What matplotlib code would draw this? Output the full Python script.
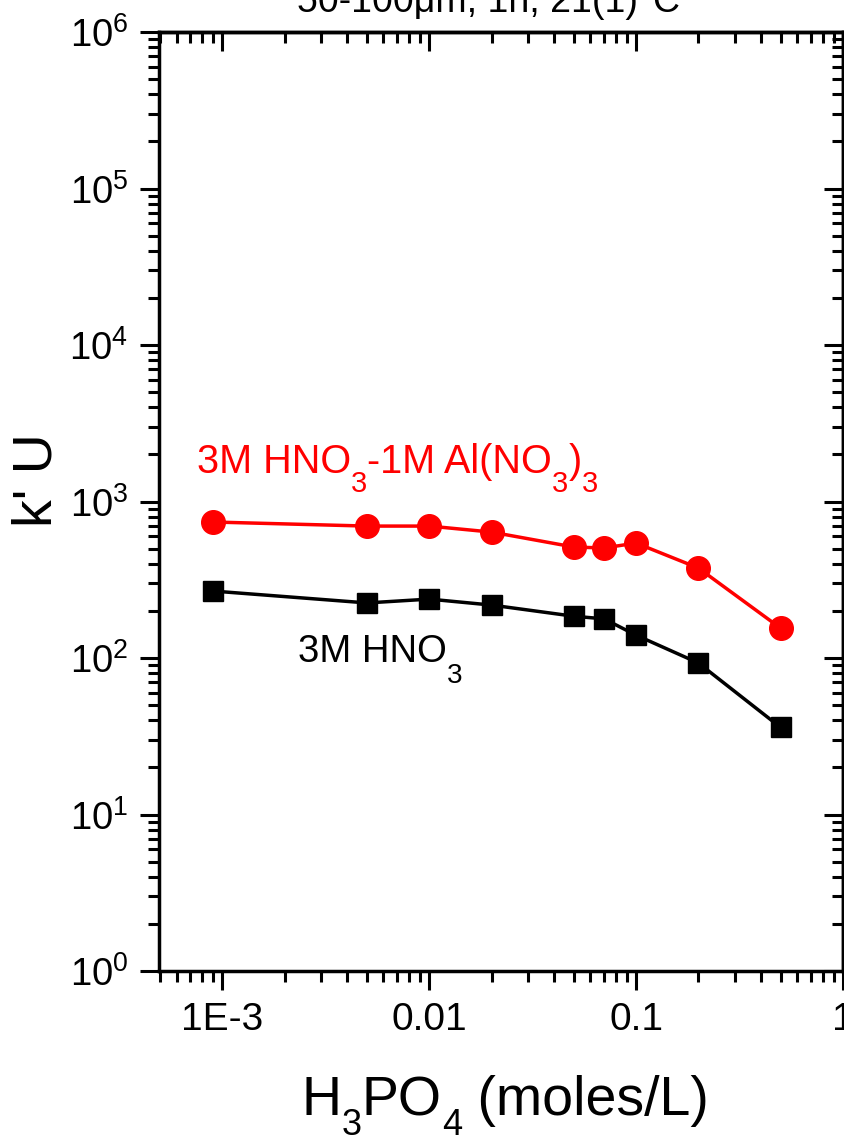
import math
import matplotlib
matplotlib.use("Agg")
import matplotlib.pyplot as plt
from matplotlib.ticker import LogLocator, FixedLocator, FixedFormatter, FuncFormatter, NullFormatter

plt.rcParams['font.family'] = ['Liberation Sans', 'DejaVu Sans']
plt.rcParams['mathtext.fontset'] = 'custom'
plt.rcParams['mathtext.rm'] = 'Liberation Sans'
plt.rcParams['mathtext.it'] = 'Liberation Sans:italic'

h3po4 = [0.0009, 0.005, 0.01, 0.02, 0.05, 0.07, 0.1, 0.2, 0.5]
k_al = [740, 697, 697, 638, 512, 505, 543, 376, 155]
k_hno3 = [268, 225, 238, 218, 185, 178, 140, 93, 36]
xtick_vals = [0.001, 0.01, 0.1, 1]
xtick_labels = ['1E-3', '0.01', '0.1', '1']

W, H = 845, 1136
fig = plt.figure(figsize=(W / 100, H / 100), dpi=100)
ax = fig.add_axes([0.188, 0.1452, 0.8096, 0.8266])

ax.plot(h3po4, k_al, color='red', lw=2.5, marker='o', ms=17, zorder=3)
ax.plot(h3po4, k_hno3, color='black', lw=2.5, marker='s', ms=15, zorder=3)

ax.set_xscale('log')
ax.set_yscale('log')
ax.set_xlim(4.93e-4, 1)
ax.set_ylim(1, 1e6)

ax.xaxis.set_major_locator(FixedLocator(xtick_vals))
ax.xaxis.set_major_formatter(FixedFormatter(xtick_labels))
ax.xaxis.set_minor_locator(LogLocator(base=10, subs=range(2, 10), numticks=20))
ax.xaxis.set_minor_formatter(NullFormatter())
ax.yaxis.set_major_locator(LogLocator(base=10, numticks=10))
ax.yaxis.set_major_formatter(FuncFormatter(lambda v, p: r'10$^{%d}$' % round(math.log10(v))))
ax.yaxis.set_minor_locator(LogLocator(base=10, subs=range(2, 10), numticks=20))
ax.yaxis.set_minor_formatter(NullFormatter())

for s in ax.spines.values():
    s.set_linewidth(2.5)

ax.tick_params(which='both', direction='out', top=False, right=False, width=2.2)
ax.tick_params(which='major', length=14, pad=8)
ax.tick_params(which='minor', length=8)
ax.tick_params(axis='x', labelsize=28)
ax.tick_params(axis='y', labelsize=27.5)

# mirrored inward ticks on top and right
axt = ax.secondary_xaxis('top')
axt.xaxis.set_major_locator(FixedLocator(xtick_vals))
axt.xaxis.set_minor_locator(LogLocator(base=10, subs=range(2, 10), numticks=20))
axt.tick_params(which='both', direction='in', labeltop=False, width=2.2)
axt.tick_params(which='major', length=14)
axt.tick_params(which='minor', length=8)
axt.spines['top'].set_linewidth(2.5)
axr = ax.secondary_yaxis('right')
axr.yaxis.set_major_locator(LogLocator(base=10, numticks=10))
axr.yaxis.set_minor_locator(LogLocator(base=10, subs=range(2, 10), numticks=20))
axr.tick_params(which='both', direction='in', labelright=False, width=2.2)
axr.tick_params(which='major', length=14)
axr.tick_params(which='minor', length=8)
axr.spines['right'].set_linewidth(2.5)

ax.set_ylabel("k' U", fontsize=40)
ax.yaxis.set_label_coords(-0.14, 0.523)

renderer = fig.canvas.get_renderer()


def rich_text(x_px, base_px, pieces, size, sub_size, sub_drop, color):
    """Draw text with subscripts; x_px from left, base_px baseline from top."""
    x = x_px
    for s, sub in pieces:
        fs = sub_size if sub else size
        y = base_px + (sub_drop if sub else 0)
        t = fig.text(x / W, 1 - y / H, s, fontsize=fs, color=color,
                     ha='left', va='baseline')
        x += t.get_window_extent(renderer).width


rich_text(197, 473, [('3M HNO', False), ('3', True), ('-1M Al(NO', False),
                     ('3', True), (')', False), ('3', True)],
          28.5, 21, 19, 'red')
rich_text(298, 662, [('3M HNO', False), ('3', True)], 27.5, 20, 21, 'black')
rich_text(302, 1115, [('H', False), ('3', True), ('PO', False), ('4', True),
                      (' (moles/L)', False)], 40, 26, 20, 'black')

fig.text(0.578, 0.9894, u'50-100\u03bcm, 1h, 21(1)\u00b0C', ha='center', va='baseline', fontsize=27)

fig.savefig('out.png', dpi=100)
